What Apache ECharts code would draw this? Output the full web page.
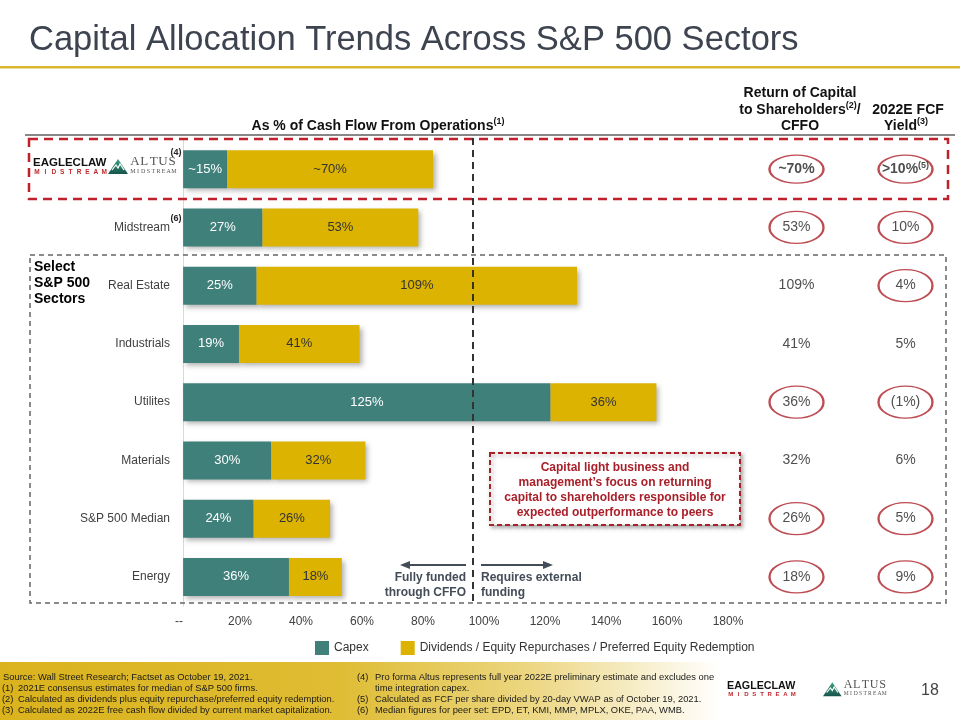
<!DOCTYPE html>
<html><head><meta charset="utf-8">
<script src="https://cdn.jsdelivr.net/npm/echarts@6/dist/echarts.min.js"></script>
<style>html,body{margin:0;padding:0;background:#fff}#c{width:960px;height:720px}</style>
</head><body><div id="c"></div>
<script>
// ---------- data ----------
const categories = ['EagleClaw / Altus', 'Midstream', 'Real Estate', 'Industrials', 'Utilites', 'Materials', 'S&P 500 Median', 'Energy'];
const capex = [15, 27, 25, 19, 125, 30, 24, 36];
const shareholderReturns = [70, 53, 109, 41, 36, 32, 26, 18];
const approximate = [true, false, false, false, false, false, false, false];
const tickLabels = ['--', '20%', '40%', '60%', '80%', '100%', '120%', '140%', '160%', '180%'];
const rocLabels = ['~70%', '53%', '109%', '41%', '36%', '32%', '26%', '18%'];
const rocCircled = [true, true, false, false, true, false, true, true];
const fcfLabels = ['>10%', '10%', '4%', '5%', '(1%)', '6%', '5%', '9%'];
const fcfCircled = [true, true, true, false, true, false, true, true];
const fcfNote = ['(5)', '', '', '', '', '', '', ''];

// ---------- styles ----------
const FONT = 'Liberation Sans, Arial, sans-serif';
const SERIF = 'Liberation Serif, Times New Roman, serif';
const TEAL = '#40807b';
const GOLD = '#dbb300';
const DARKRED = '#ad1f28';
const ELLIPSE = 'path://M0,50 C0,22.4 22.4,0 50,0 C77.6,0 100,22.4 100,50 C100,77.6 77.6,100 50,100 C22.4,100 0,77.6 0,50 Z';

const chart = echarts.init(document.getElementById('c'), null, {renderer: 'canvas'});

function txt(x, y, text, o) {
  o = o || {};
  return {type: 'text', x: x, y: y, z: o.z || 10, style: Object.assign({
    text: text, fontFamily: FONT, fontSize: 12, fill: '#222',
    align: 'left', verticalAlign: 'middle'
  }, o.style || {})};
}
function spaced(x0, y, str, step, style) {
  return str.split('').map((ch, i) => txt(x0 + i * step, y, ch, {style: Object.assign({align: 'center'}, style)}));
}
function logo(ex, ey, s, tx) {
  const els = [];
  els.push(txt(ex, ey, 'EAGLECLAW', {style: {fontSize: 11.5 * s, fontWeight: 'bold', fill: '#111'}}));
  els.push(...spaced(ex + 4 * s, ey + 9 * s, 'MIDSTREAM', 8.4 * s, {fontSize: 6.5 * s, fontWeight: 'bold', fill: '#c0282d'}));
  const ty = ey - 4 * s;
  els.push({type: 'polygon', z: 10, shape: {points: [[tx, ty + 15 * s], [tx + 10 * s, ty], [tx + 20 * s, ty + 15 * s]]},
    style: {fill: new echarts.graphic.LinearGradient(0, 0, 0, 1, [{offset: 0, color: '#3d9f86'}, {offset: 1, color: '#17544a'}])}});
  els.push({type: 'polyline', z: 11, shape: {points: [[tx + 4 * s, ty + 11 * s], [tx + 8 * s, ty + 6 * s], [tx + 10 * s, ty + 9 * s], [tx + 12 * s, ty + 5 * s], [tx + 16 * s, ty + 11 * s]]},
    style: {stroke: '#ffffff', lineWidth: 1.2 * s, fill: null}});
  els.push(...spaced(tx + 27 * s, ey - 1 * s, 'ALTUS', 9.3 * s, {fontFamily: SERIF, fontSize: 13 * s, fill: '#555'}));
  els.push(...spaced(tx + 25 * s, ey + 8 * s, 'MIDSTREAM', 5.1 * s, {fontFamily: SERIF, fontSize: 6 * s, fill: '#555'}));
  return els;
}

const graphics = [];
// title underline
graphics.push({type: 'rect', z: 5, shape: {x: 0, y: 66, width: 960, height: 2.5}, style: {fill: '#d8b833'}});
// header underline
graphics.push({type: 'line', z: 5, shape: {x1: 25, y1: 135, x2: 955, y2: 135}, style: {stroke: '#111', lineWidth: 1}});
// headers
const hdrRich = {
  b: {fontFamily: FONT, fontSize: 14, fontWeight: 'bold', fill: '#111', lineHeight: 17},
  s: {fontFamily: FONT, fontSize: 9, fontWeight: 'bold', fill: '#111', lineHeight: 10, verticalAlign: 'top'}
};
graphics.push(txt(378, 126, '{b|As % of Cash Flow From Operations}{s|(1)}', {style: {align: 'center', rich: hdrRich}}));
graphics.push(txt(800, 93, '{b|Return of Capital}', {style: {align: 'center', rich: hdrRich}}));
graphics.push(txt(800, 110, '{b|to Shareholders}{s|(2)}{b|/}', {style: {align: 'center', rich: hdrRich}}));
graphics.push(txt(800, 126, '{b|CFFO}', {style: {align: 'center', rich: hdrRich}}));
graphics.push(txt(908, 110, '{b|2022E FCF}', {style: {align: 'center', rich: hdrRich}}));
graphics.push(txt(906, 126, '{b|Yield}{s|(3)}', {style: {align: 'center', rich: hdrRich}}));
// dashed boxes
graphics.push({type: 'rect', z: 6, shape: {x: 29, y: 139, width: 919, height: 60},
  style: {fill: null, stroke: '#c0202a', lineWidth: 2.5, lineDash: [9, 6]}});
graphics.push({type: 'rect', z: 6, shape: {x: 30, y: 255, width: 916, height: 348},
  style: {fill: null, stroke: '#666', lineWidth: 1.5, lineDash: [5, 4]}});
// 100% divider
graphics.push({type: 'line', z: 6, shape: {x1: 473, y1: 138, x2: 473, y2: 602},
  style: {stroke: '#333', lineWidth: 2, lineDash: [7, 5]}});
// arrows
const ARC = '#434c58';
graphics.push({type: 'line', z: 7, shape: {x1: 466, y1: 565, x2: 408, y2: 565}, style: {stroke: ARC, lineWidth: 2}});
graphics.push({type: 'polygon', z: 7, shape: {points: [[400, 565], [410, 561], [410, 569]]}, style: {fill: ARC}});
graphics.push({type: 'line', z: 7, shape: {x1: 481, y1: 565, x2: 545, y2: 565}, style: {stroke: ARC, lineWidth: 2}});
graphics.push({type: 'polygon', z: 7, shape: {points: [[553, 565], [543, 561], [543, 569]]}, style: {fill: ARC}});
const arrowStyle = {fontSize: 12, fontWeight: 'bold', fill: ARC};
graphics.push(txt(466, 578, 'Fully funded', {style: Object.assign({align: 'right'}, arrowStyle)}));
graphics.push(txt(466, 593, 'through CFFO', {style: Object.assign({align: 'right'}, arrowStyle)}));
graphics.push(txt(481, 578, 'Requires external', {style: arrowStyle}));
graphics.push(txt(481, 593, 'funding', {style: arrowStyle}));
// callout
graphics.push({type: 'rect', z: 8, shape: {x: 490, y: 453, width: 250, height: 72},
  style: {fill: '#fff', stroke: '#a8202a', lineWidth: 2, lineDash: [5, 3], shadowBlur: 4, shadowOffsetX: 2, shadowOffsetY: 2, shadowColor: 'rgba(0,0,0,0.35)'}});
['Capital light business and', 'management\u2019s focus on returning', 'capital to shareholders responsible for', 'expected outperformance to peers']
  .forEach((l, i) => graphics.push(txt(615, 468 + i * 14.8, l, {z: 9, style: {align: 'center', fontSize: 12, fontWeight: 'bold', fill: '#a8202a'}})));
// select sectors
['Select', 'S&P 500', 'Sectors'].forEach((l, i) => graphics.push(txt(34, 267 + i * 16, l, {style: {fontSize: 14, fontWeight: 'bold', fill: '#000'}})));
// superscripts on row labels
graphics.push(txt(176, 153, '(4)', {style: {align: 'center', fontSize: 9, fontWeight: 'bold', fill: '#222'}}));
graphics.push(txt(176, 219, '(6)', {style: {align: 'center', fontSize: 9, fontWeight: 'bold', fill: '#222'}}));
// top logo
graphics.push(...logo(33, 163, 1, 108));
// footer band
graphics.push({type: 'rect', z: 1, shape: {x: 0, y: 662, width: 960, height: 58},
  style: {fill: new echarts.graphic.LinearGradient(0, 0, 1, 0, [
    {offset: 0, color: '#dab31d'}, {offset: 0.35, color: '#dfbc33'}, {offset: 0.55, color: '#ecd680'}, {offset: 0.75, color: '#ffffff'}, {offset: 1, color: '#ffffff'}])}});
const fs = {fontSize: 9.4, fill: '#1a1a1a'};
const fy = [677, 688, 699, 710];
graphics.push(txt(3, fy[0], 'Source: Wall Street Research; Factset as October 19, 2021.', {style: fs}));
[['(1)', '2021E consensus estimates for median of S&P 500 firms.'],
 ['(2)', 'Calculated as dividends plus equity repurchase/preferred equity redemption.'],
 ['(3)', 'Calculated as 2022E free cash flow divided by current market capitalization.']]
  .forEach((r, i) => { graphics.push(txt(2, fy[i + 1], r[0], {style: fs})); graphics.push(txt(18, fy[i + 1], r[1], {style: fs})); });
graphics.push(txt(357, fy[0], '(4)', {style: fs}));
graphics.push(txt(375, fy[0], 'Pro forma Altus represents full year 2022E preliminary estimate and excludes one', {style: fs}));
graphics.push(txt(375, fy[1], 'time integration capex.', {style: fs}));
graphics.push(txt(357, fy[2], '(5)', {style: fs}));
graphics.push(txt(375, fy[2], 'Calculated as FCF per share divided by 20-day VWAP as of October 19, 2021.', {style: fs}));
graphics.push(txt(357, fy[3], '(6)', {style: fs}));
graphics.push(txt(375, fy[3], 'Median figures for peer set: EPD, ET, KMI, MMP, MPLX, OKE, PAA, WMB.', {style: fs}));
// footer logo and page number
graphics.push(...logo(727, 686, 0.93, 823));
graphics.push(txt(930, 691, '18', {style: {align: 'center', fontSize: 16, fill: '#444'}}));

// ---------- table series data ----------
function tableData(labels, circled, col, notes) {
  return labels.map((l, i) => {
    let t = i === 0 ? '{bd|' + l + '}' : '{nm|' + l + '}';
    if (notes && notes[i]) t += '{sup|' + notes[i] + '}';
    return {
      value: [col, i],
      symbolSize: [54, i === 0 ? 28 : 32],
      itemStyle: {borderColor: circled[i] ? DARKRED : 'rgba(0,0,0,0)'},
      label: {formatter: t}
    };
  });
}
const tableRich = {
  nm: {fontFamily: FONT, fontSize: 14, color: '#222', lineHeight: 16},
  bd: {fontFamily: FONT, fontSize: 14, fontWeight: 'bold', color: '#222', lineHeight: 16},
  sup: {fontFamily: FONT, fontSize: 9, fontWeight: 'bold', color: '#222', lineHeight: 10, verticalAlign: 'top'}
};

const option = {
  backgroundColor: '#fff',
  animation: false,
  textStyle: {fontFamily: FONT},
  title: {text: 'Capital Allocation Trends Across S&P 500 Sectors', left: 24, top: 18,
    textStyle: {fontFamily: FONT, fontSize: 34.5, fontWeight: 'normal', color: '#3d4450'}},
  legend: {
    left: 310, top: 636, itemWidth: 14, itemHeight: 14, itemGap: 32, icon: 'rect',
    data: ['Capex', 'Dividends / Equity Repurchases / Preferred Equity Redemption'],
    textStyle: {fontFamily: FONT, fontSize: 12, color: '#333'},
    itemStyle: {shadowBlur: 0, shadowOffsetX: 0, shadowOffsetY: 0}
  },
  grid: [
    {left: 179, width: 610, top: 140, height: 466},
    {left: 742, width: 220, top: 140, height: 466}
  ],
  xAxis: [
    {type: 'value', gridIndex: 0, min: -1.4, max: 206.1, show: false},
    {type: 'value', gridIndex: 0, min: 0, max: 200, interval: 20, position: 'bottom',
      axisLine: {show: false}, axisTick: {show: false}, splitLine: {show: false},
      axisLabel: {margin: 10, fontSize: 12, color: '#404040', fontFamily: FONT,
        formatter: v => (v / 20 < tickLabels.length ? tickLabels[v / 20] : '')}},
    {type: 'category', gridIndex: 1, data: ['roc', 'fcf'], show: false}
  ],
  yAxis: [
    {type: 'category', gridIndex: 0, data: categories, inverse: true,
      axisLine: {show: true, onZero: true, onZeroAxisIndex: 0, lineStyle: {color: '#d9d9d9', width: 1}},
      axisTick: {show: false},
      axisLabel: {margin: 9, fontSize: 12, color: '#404040', fontFamily: FONT,
        formatter: (v, i) => (i === 0 ? '' : v)}},
    {type: 'category', gridIndex: 1, data: categories, inverse: true, show: false}
  ],
  series: [
    {name: 'Capex', type: 'bar', stack: 'cffo', xAxisIndex: 0, yAxisIndex: 0, barWidth: 38,
      data: capex,
      itemStyle: {color: TEAL, shadowBlur: 5, shadowOffsetX: 3, shadowOffsetY: 3, shadowColor: 'rgba(0,0,0,0.3)'},
      label: {show: true, position: 'inside', fontFamily: FONT, fontSize: 13, color: '#fff',
        formatter: p => (approximate[p.dataIndex] ? '~' : '') + p.value + '%'}},
    {name: 'Dividends / Equity Repurchases / Preferred Equity Redemption', type: 'bar', stack: 'cffo',
      xAxisIndex: 0, yAxisIndex: 0, barWidth: 38, data: shareholderReturns,
      itemStyle: {color: GOLD, shadowBlur: 5, shadowOffsetX: 3, shadowOffsetY: 3, shadowColor: 'rgba(0,0,0,0.3)'},
      label: {show: true, position: 'inside', fontFamily: FONT, fontSize: 13, color: '#333',
        formatter: p => (approximate[p.dataIndex] ? '~' : '') + p.value + '%'}},
    {type: 'scatter', xAxisIndex: 2, yAxisIndex: 1, symbol: ELLIPSE,
      data: tableData(rocLabels, rocCircled, 0, null),
      itemStyle: {color: 'rgba(0,0,0,0)', borderWidth: 1.8},
      label: {show: true, position: 'inside', rich: tableRich}, emphasis: {disabled: true}},
    {type: 'scatter', xAxisIndex: 2, yAxisIndex: 1, symbol: ELLIPSE,
      data: tableData(fcfLabels, fcfCircled, 1, fcfNote),
      itemStyle: {color: 'rgba(0,0,0,0)', borderWidth: 1.8},
      label: {show: true, position: 'inside', rich: tableRich}, emphasis: {disabled: true}}
  ],
  graphic: graphics
};
chart.setOption(option);
</script>
</body></html>
